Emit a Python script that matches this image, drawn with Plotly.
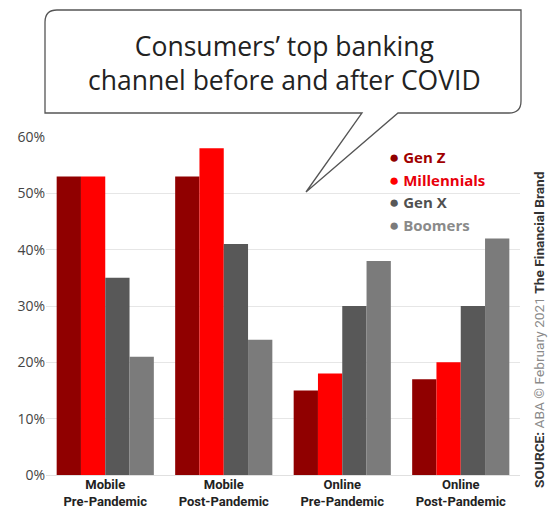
import plotly.graph_objects as go

categories = ["Mobile<br>Pre-Pandemic", "Mobile<br>Post-Pandemic",
              "Online<br>Pre-Pandemic", "Online<br>Post-Pandemic"]
gen_z = [53, 53, 15, 17]
millennials = [53, 58, 18, 20]
gen_x = [35, 41, 30, 30]
boomers = [21, 24, 38, 42]

series_names = ["Gen Z", "Millennials", "Gen X", "Boomers"]
series_values = [gen_z, millennials, gen_x, boomers]
bar_colors = ["#900000", "#ff0000", "#585858", "#7b7b7b"]
text_colors = ["#a00000", "#e8000b", "#505050", "#8a8a8a"]

title_lines = ["Consumers’ top banking", "channel before and after COVID"]
source_text = ("<b>SOURCE:</b> <span style='color:#8a8a8a'>ABA © February 2021</span> "
               "<b>The Financial Brand</b>")

W, H = 549, 511
L, R, T, B = 46, 29, 137, 36
PW, PH = W - L - R, H - T - B


def px(x):
    return (x - L) / PW


def py(y):
    return (H - B - y) / PH


fig = go.Figure()
for name, vals, col in zip(series_names, series_values, bar_colors):
    fig.add_trace(go.Bar(x=categories, y=vals, name=name, marker_color=col,
                         marker_line_width=0, showlegend=False))

for name, col, tcol in zip(series_names, bar_colors, text_colors):
    fig.add_trace(go.Scatter(
        x=[None], y=[None], mode="markers",
        marker=dict(size=1, color="rgba(0,0,0,0)"),
        name=(f"<span style='color:{col};font-size:17px'>●</span> "
              f"<span style='color:{tcol}'><b>{name}</b></span>")))

# speech bubble
x0, x1, y0, y1 = 45, 521, 10, 113
r = 12
tl, tr = 362, 398
tip = (306, 192)
pts = [
    f"M {px(x0)},{py(y0 + r)}",
    f"Q {px(x0)},{py(y0)} {px(x0 + r)},{py(y0)}",
    f"L {px(x1)},{py(y0)}",
    f"L {px(x1)},{py(y1 - r)}",
    f"Q {px(x1)},{py(y1)} {px(x1 - r)},{py(y1)}",
    f"L {px(tr)},{py(y1)}",
    f"L {px(tip[0])},{py(tip[1])}",
    f"L {px(tl)},{py(y1)}",
    f"L {px(x0)},{py(y1)}",
    "Z",
]
fig.add_shape(type="path", path=" ".join(pts), xref="paper", yref="paper",
              line=dict(color="#555555", width=1.3), fillcolor="white", layer="above")

fig.add_annotation(text="<br>".join(title_lines), xref="paper", yref="paper",
                   x=px(284), y=py(63), xanchor="center", yanchor="middle",
                   showarrow=False, align="center",
                   font=dict(family="Open Sans", size=26.5, color="#222222"))

fig.add_annotation(text=source_text, xref="paper", yref="paper",
                   x=px(539), y=py(330), xanchor="center", yanchor="middle",
                   textangle=-90, showarrow=False,
                   font=dict(family="Roboto", size=13.7, color="#333333"))

fig.update_layout(
    width=W, height=H,
    margin=dict(l=L, r=R, t=T, b=B, autoexpand=False),
    paper_bgcolor="white", plot_bgcolor="white",
    barmode="group", bargap=0.18, bargroupgap=0,
    font=dict(family="Roboto", color="#333333"),
    legend=dict(x=px(349), y=py(141), xanchor="left", yanchor="top",
                bgcolor="rgba(0,0,0,0)",
                font=dict(family="Open Sans", size=15),
                itemwidth=30, tracegroupgap=0),
    xaxis=dict(range=[-0.5, 3.5], showgrid=False, showline=False, ticks="",
               automargin=False,
               tickfont=dict(family="Roboto", size=13, color="#222222"),
               tickprefix="<b>", ticksuffix="</b>"),
    yaxis=dict(range=[0, 60], dtick=10, ticksuffix="%", showgrid=True,
               automargin=False,
               gridcolor="#e6e6e6", gridwidth=1, zeroline=True,
               zerolinecolor="#e0e0e0", zerolinewidth=1, showline=False,
               tickfont=dict(family="Open Sans", size=14, color="#444444")),
)

fig.write_html("out.html", config={"displayModeBar": False},
               post_script="document.body.style.margin='0';")
